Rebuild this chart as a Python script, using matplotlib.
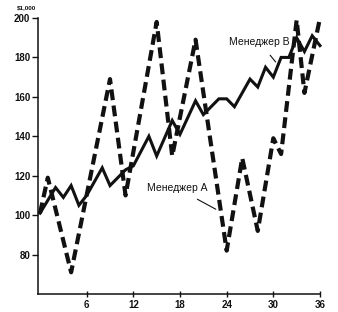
import matplotlib
matplotlib.use("Agg")
import matplotlib.pyplot as plt

# Manager A (dashed) - turning points
months_a = [0, 1, 4, 9, 11, 15, 17, 20, 24, 26, 28, 30, 31, 33, 34, 36]
values_a = [101, 119, 71, 169, 110, 198, 130, 189, 82, 129, 92, 139, 131, 199, 162, 200]

# Manager B (solid)
months_b = [0, 2, 3, 4, 5, 6, 8, 9, 11, 12, 14, 15, 17, 18, 20, 21, 23, 24,
            25, 27, 28, 29, 30, 31, 32, 33, 34, 35, 36]
values_b = [101, 114, 109, 115, 105, 110, 124, 115, 123, 125, 140, 130, 148, 141,
            158, 151, 159, 159, 155, 169, 165, 175, 170, 180, 180, 190, 183, 191, 186]

x_ticks = [6, 12, 18, 24, 30, 36]
y_ticks = [80, 100, 120, 140, 160, 180, 200]

plt.rcParams['font.family'] = ['Liberation Sans', 'DejaVu Sans']

fig = plt.figure(figsize=(3.38, 3.12), dpi=100)
ax = fig.add_axes([0.1124, 0.0577, 0.8343, 0.8846])

ax.plot(months_b, values_b, color='#111111', lw=2.2, solid_joinstyle='miter',
        clip_on=False)
ax.plot(months_a, values_a, color='#111111', lw=3.0, linestyle=(0, (2.6, 1.3)),
        clip_on=False)

ax.set_xlim(-0.26, 36)
ax.set_ylim(60, 200)
ax.set_xticks(x_ticks)
ax.set_yticks(y_ticks)
ax.set_xticklabels([str(t) for t in x_ticks], fontsize=7, fontweight='bold')
ax.set_yticklabels([str(t) for t in y_ticks], fontsize=7, fontweight='bold')
ax.tick_params(axis='both', direction='out', length=4, width=1, pad=1.5,
               colors='#111111')
ax.tick_params(axis='x', direction='inout', length=5)

for side in ['top', 'right']:
    ax.spines[side].set_visible(False)
for side in ['left', 'bottom']:
    ax.spines[side].set_linewidth(1.1)
    ax.spines[side].set_color('#111111')

fig.text(0.05, 0.985, '$1,000', fontsize=4.5, fontweight='bold', va='top',
         color='#111111')

ax.annotate('Менеджер В', xy=(30.3, 177.7), xytext=(28.2, 187.8),
            fontsize=7.5, ha='center', va='center', color='#111111',
            arrowprops=dict(arrowstyle='-', color='#111111', lw=0.8,
                            shrinkA=5, shrinkB=0))
ax.annotate('Менеджер А', xy=(22.6, 103), xytext=(17.6, 113.7),
            fontsize=7.5, ha='center', va='center', color='#111111',
            arrowprops=dict(arrowstyle='-', color='#111111', lw=0.8,
                            shrinkA=5, shrinkB=0))

fig.savefig('out.png', dpi=100)
